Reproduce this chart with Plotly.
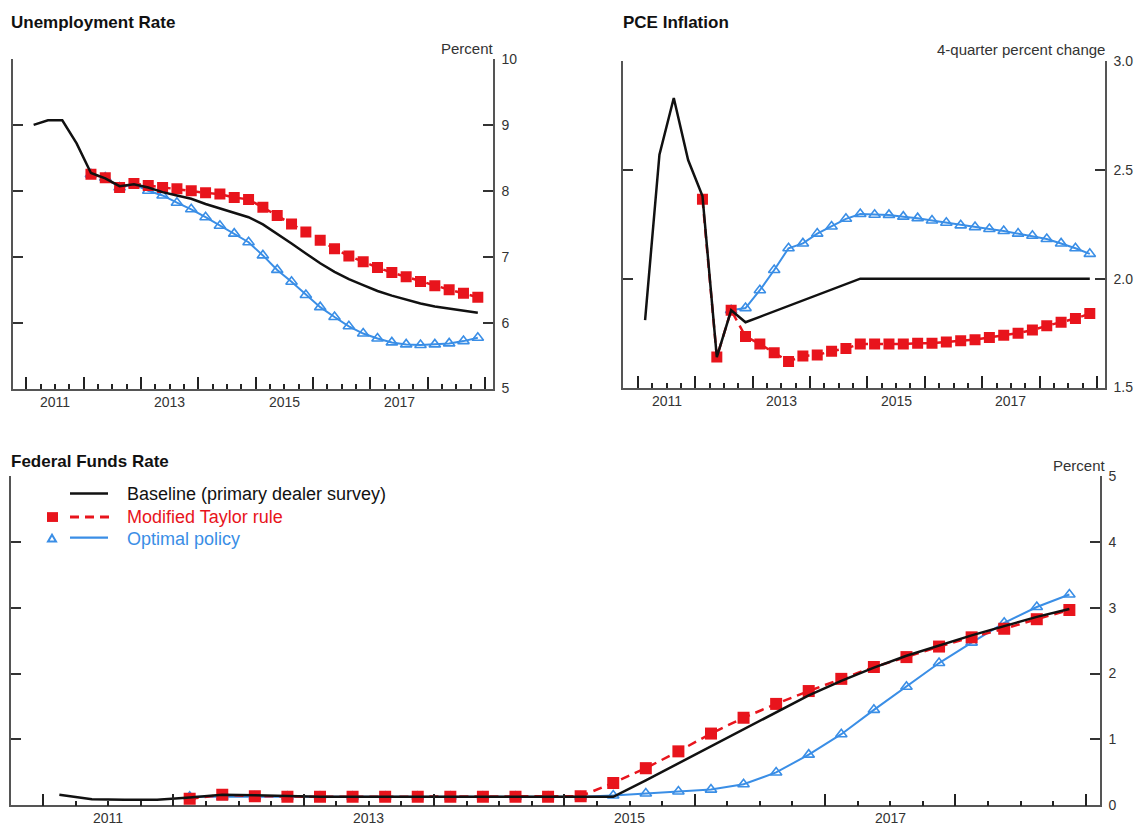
import plotly.graph_objects as go

# ---------------- data ----------------
years = [2011, 2012, 2013, 2014, 2015, 2016, 2017, 2018]
quarters = [f"{y}Q{q}" for y in years for q in (1, 2, 3, 4)]
year_labels = ["2011", "2013", "2015", "2017"]

# Unemployment rate (percent)
unemp_baseline = [9.00, 9.07, 9.07, 8.72,
                  8.27, 8.19, 8.07, 8.10,
                  8.05, 7.98, 7.93, 7.88,
                  7.80, 7.73, 7.66, 7.60,
                  7.49, 7.35, 7.20, 7.05,
                  6.90, 6.77, 6.66, 6.57,
                  6.48, 6.41, 6.35, 6.29,
                  6.245, 6.21, 6.18, 6.15]
unemp_taylor = [None, None, None, None,
                8.25, 8.20, 8.05, 8.11,
                8.08, 8.05, 8.03, 8.00,
                7.97, 7.95, 7.90, 7.87,
                7.75, 7.625, 7.495, 7.375,
                7.25, 7.12, 7.01, 6.925,
                6.835, 6.76, 6.695, 6.625,
                6.56, 6.50, 6.445, 6.385]
unemp_optimal = [None, None, None, None,
                 8.25, 8.20, 8.05, 8.10,
                 8.00, 7.93, 7.82, 7.72,
                 7.60, 7.47, 7.35, 7.22,
                 7.02, 6.80, 6.62, 6.42,
                 6.235, 6.085, 5.945, 5.835,
                 5.76, 5.70, 5.67, 5.66,
                 5.67, 5.685, 5.72, 5.77]

# PCE inflation (4-quarter percent change)
pce_baseline = [1.81, 2.57, 2.83, 2.545,
                2.38, 1.64, 1.855, 1.80,
                1.825, 1.85, 1.875, 1.90,
                1.925, 1.95, 1.975, 2.00,
                2.00, 2.00, 2.00, 2.00,
                2.00, 2.00, 2.00, 2.00,
                2.00, 2.00, 2.00, 2.00,
                2.00, 2.00, 2.00, 2.00]
pce_taylor = [None, None, None, None,
              2.365, 1.64, 1.855, 1.735,
              1.70, 1.66, 1.62, 1.645,
              1.65, 1.667, 1.68, 1.70,
              1.70, 1.70, 1.70, 1.704,
              1.704, 1.709, 1.715, 1.72,
              1.73, 1.74, 1.75, 1.764,
              1.784, 1.80, 1.817, 1.84]
pce_optimal = [None, None, None, None,
               None, None, 1.855, 1.865,
               1.947, 2.04, 2.14, 2.162,
               2.207, 2.24, 2.275, 2.297,
               2.294, 2.293, 2.285, 2.278,
               2.267, 2.257, 2.245, 2.237,
               2.228, 2.219, 2.207, 2.197,
               2.182, 2.162, 2.14, 2.114]

# Federal funds rate (percent)
ffr_baseline = [0.16, 0.095, 0.085, 0.085,
                0.12, 0.16, 0.155, 0.14,
                0.13, 0.13, 0.13, 0.13,
                0.13, 0.13, 0.13, 0.13,
                0.13, 0.13, 0.38, 0.64,
                0.90, 1.16, 1.42, 1.67,
                1.89, 2.09, 2.27, 2.43,
                2.58, 2.72, 2.86, 2.98]
ffr_taylor = [None, None, None, None,
              0.10, 0.16, 0.14, 0.13,
              0.13, 0.13, 0.13, 0.13,
              0.13, 0.13, 0.13, 0.13,
              0.14, 0.34, 0.565, 0.82,
              1.09, 1.33, 1.54, 1.735,
              1.92, 2.10, 2.25, 2.41,
              2.55, 2.68, 2.825, 2.965]
ffr_optimal = [None, None, None, None,
               0.13, 0.13, 0.13, 0.13,
               0.13, 0.13, 0.13, 0.13,
               0.13, 0.13, 0.13, 0.13,
               0.13, 0.15, 0.18, 0.21,
               0.24, 0.32, 0.50, 0.77,
               1.08, 1.45, 1.80, 2.16,
               2.47, 2.77, 3.01, 3.20]

# ---------------- styling ----------------
W, H = 1136, 834
BLACK = "#111111"
RED = "#e8141c"
BLUE = "#3a8ee6"
AXIS = "#555555"
TXT = "#333333"
FONT = "Liberation Sans, Arial, sans-serif"


def qpos(label):
    y, q = label.split("Q")
    return int(y) + (int(q) - 0.5) / 4.0


xq = [qpos(q) for q in quarters]

fig = go.Figure()

panels = [
    ("x", "y", unemp_baseline, unemp_taylor, unemp_optimal, 11),
    ("x2", "y2", pce_baseline, pce_taylor, pce_optimal, 11),
    ("x3", "y3", ffr_baseline, ffr_taylor, ffr_optimal, 12),
]
for xa, ya, base, tay, opt, msize in panels:
    fig.add_trace(go.Scatter(
        x=xq, y=opt, xaxis=xa, yaxis=ya, mode="lines+markers",
        line=dict(color=BLUE, width=2),
        marker=dict(symbol="triangle-up-open", size=10, color=BLUE,
                    line=dict(width=1.6, color=BLUE)),
        showlegend=False, connectgaps=False))
    fig.add_trace(go.Scatter(
        x=xq, y=tay, xaxis=xa, yaxis=ya, mode="lines+markers",
        line=dict(color=RED, width=2.5, dash="9px,6px"),
        marker=dict(symbol="square", size=msize, color=RED, line=dict(width=0)),
        showlegend=False, connectgaps=False))
    fig.add_trace(go.Scatter(
        x=xq, y=base, xaxis=xa, yaxis=ya, mode="lines",
        line=dict(color=BLACK, width=2.5),
        showlegend=False, connectgaps=False))


def px_x(p):
    return p / W


def px_y(p):
    return 1 - p / H


year_ticks = list(range(2011, 2020))
minor_ticks = [y + k / 4 for y in range(2011, 2019) for k in (1, 2, 3)]


def xaxis(domain, rng, anchor):
    return dict(domain=domain, range=rng, anchor=anchor, showline=True,
                linecolor=AXIS, linewidth=1.5, mirror=False, ticks="inside",
                tickmode="array", tickvals=year_ticks, ticklen=12,
                tickwidth=1.5, tickcolor="#222", showticklabels=False,
                showgrid=False, zeroline=False, fixedrange=True,
                minor=dict(tickmode="array", tickvals=minor_ticks, ticklen=5,
                           tickwidth=1.5, tickcolor="#222", ticks="inside",
                           showgrid=False))


def yaxis(domain, rng, vals, fmt, anchor):
    return dict(domain=domain, range=rng, side="right", anchor=anchor,
                showline=True, linecolor=AXIS, linewidth=1.5, mirror="ticks",
                ticks="inside", ticklen=10, tickwidth=1.5, tickcolor="#333",
                tickmode="array", tickvals=vals, tickformat=fmt,
                ticklabelstandoff=4,
                tickfont=dict(family=FONT, size=14, color=TXT),
                showgrid=False, zeroline=False, fixedrange=True)


fig.update_layout(
    width=W, height=H, margin=dict(l=0, r=0, t=0, b=0),
    paper_bgcolor="white", plot_bgcolor="white",
    font=dict(family=FONT, color=TXT),
    xaxis=xaxis([px_x(13), px_x(493)], [2010.765, 2019.14], "y"),
    yaxis=yaxis([px_y(388), px_y(52)], [5, 10], [5, 6, 7, 8, 9, 10], "d", "x"),
    xaxis2=xaxis([px_x(623), px_x(1105)], [2010.74, 2019.14], "y2"),
    yaxis2=yaxis([px_y(387), px_y(54)], [1.5, 3.0], [1.5, 2.0, 2.5, 3.0], ".1f", "x2"),
    xaxis3=xaxis([px_x(11), px_x(1100)], [2010.754, 2019.11], "y3"),
    yaxis3=yaxis([px_y(813), px_y(477)], [0, 5], [0, 1, 2, 3, 4, 5], "d", "x3"),
)

ann = []
# titles
for text, x, y in [("Unemployment Rate", 9, 15), ("PCE Inflation", 621, 15),
                   ("Federal Funds Rate", 9, 462)]:
    ann.append(dict(text=f"<b>{text}</b>", x=px_x(x), y=px_y(y), xref="paper",
                    yref="paper", xanchor="left", yanchor="middle",
                    showarrow=False, font=dict(family=FONT, size=17, color="#111")))
# unit labels
for text, x, y in [("Percent", 496, 41), ("4-quarter percent change", 1107, 42),
                   ("Percent", 1108, 466)]:
    ann.append(dict(text=text, x=px_x(x), y=px_y(y), xref="paper", yref="paper",
                    xanchor="right", yanchor="middle", showarrow=False,
                    font=dict(family=FONT, size=15, color=TXT)))
# year labels
for xa, ya in [("x", "y"), ("x2", "y2"), ("x3", "y3")]:
    for lab in year_labels:
        ann.append(dict(text=lab, x=int(lab) + 0.5, y=0, xref=xa,
                        yref=f"{ya} domain", xanchor="center", yanchor="top",
                        yshift=-3, showarrow=False,
                        font=dict(family=FONT, size=14, color=TXT)))
# legend text
for text, col, y in [("Baseline (primary dealer survey)", "#111", 495),
                     ("Modified Taylor rule", RED, 519),
                     ("Optimal policy", BLUE, 541)]:
    ann.append(dict(text=text, x=px_x(125), y=px_y(y), xref="paper", yref="paper",
                    xanchor="left", yanchor="middle", showarrow=False,
                    font=dict(family=FONT, size=18, color=col)))
fig.update_layout(annotations=ann)

shapes = [
    dict(type="line", xref="paper", yref="paper", x0=px_x(70), x1=px_x(108),
         y0=px_y(495), y1=px_y(495), line=dict(color=BLACK, width=2.5)),
    dict(type="line", xref="paper", yref="paper", x0=px_x(70), x1=px_x(110),
         y0=px_y(519), y1=px_y(519), line=dict(color=RED, width=3, dash="9px,6px")),
    dict(type="line", xref="paper", yref="paper", x0=px_x(70), x1=px_x(108),
         y0=px_y(540), y1=px_y(540), line=dict(color=BLUE, width=2.2)),
    dict(type="rect", xref="paper", yref="paper", x0=px_x(47), x1=px_x(58),
         y0=px_y(524), y1=px_y(514), fillcolor=RED, line=dict(width=0)),
    dict(type="path", xref="paper", yref="paper",
         path=f"M {px_x(48)} {px_y(544)} L {px_x(56)} {px_y(544)} L {px_x(52)} {px_y(537)} Z",
         fillcolor="rgba(0,0,0,0)", line=dict(color=BLUE, width=2)),
]
fig.update_layout(shapes=shapes)

fig.write_html("out.html", config={"displayModeBar": False},
               post_script="document.body.style.margin='0px';")
